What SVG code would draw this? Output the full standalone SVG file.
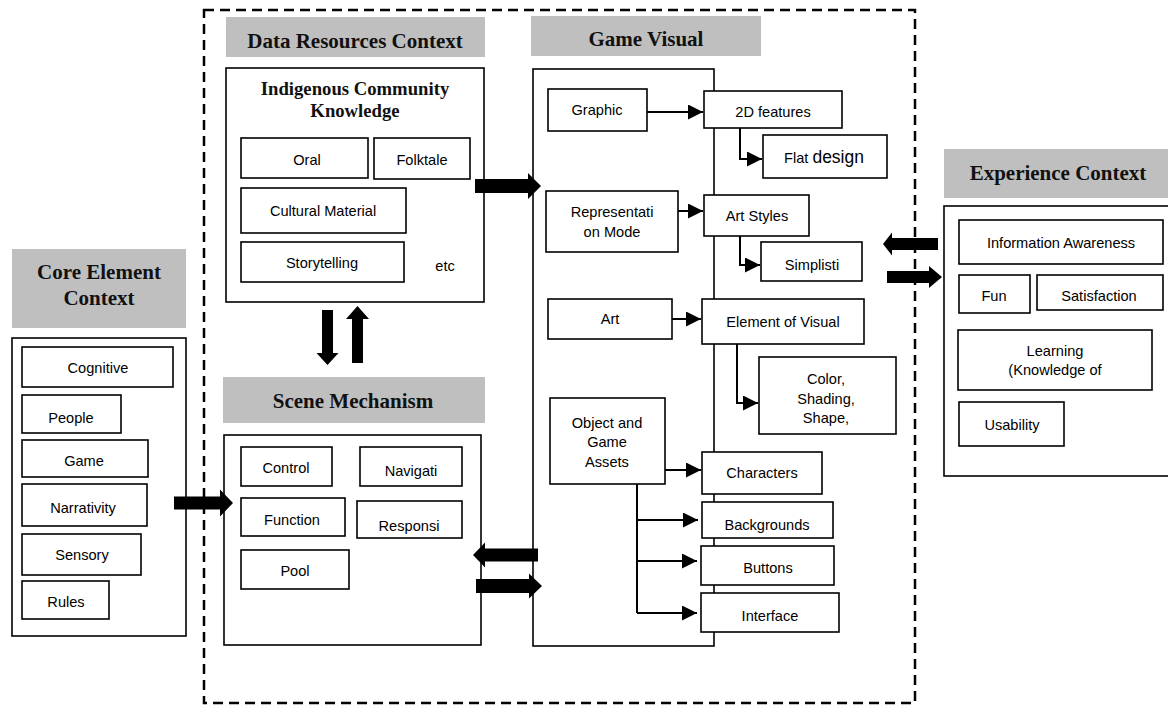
<svg xmlns="http://www.w3.org/2000/svg" width="1168" height="706" viewBox="0 0 1168 706">
<style>
.bg{fill:#fff}
.hdr{fill:#bfbfbf}
.hdt{font-family:"Liberation Serif",serif;font-weight:bold;font-size:21px;fill:#111;text-anchor:middle}
.ttl{font-family:"Liberation Serif",serif;font-weight:bold;font-size:18.7px;fill:#111;text-anchor:middle}
.box{fill:#fff;stroke:#000;stroke-width:1.6}
.t{font-family:"Liberation Sans",Arial,sans-serif;font-size:14.6px;fill:#000;text-anchor:middle}
.ln{fill:none;stroke:#000;stroke-width:2}
.thick{fill:#000}
.dash{fill:none;stroke:#000;stroke-width:2.5;stroke-dasharray:10 6}
</style>
<defs>
<marker id="ah" viewBox="0 0 10 10" refX="10" refY="5" markerWidth="7.5" markerHeight="7.5" markerUnits="strokeWidth" orient="auto">
<path d="M0,0 L10,5 L0,10 Z" fill="#000"/>
</marker>
</defs>
<rect class="bg" x="0" y="0" width="1168" height="706"/>
<rect id="boundary" class="dash" x="204" y="10" width="711" height="693"/>

<g id="core-element-context">
<rect class="hdr" x="12" y="249" width="174" height="79"/>
<text class="hdt" x="99" y="279">Core Element</text>
<text class="hdt" x="99" y="305">Context</text>
<rect class="box" x="12" y="338" width="174" height="298"/>
<g id="cognitive"><rect class="box" x="22" y="347" width="151" height="40"/><text class="t" x="98" y="373">Cognitive</text></g>
<g id="people"><rect class="box" x="22" y="395" width="99" height="38"/><text class="t" x="71" y="423">People</text></g>
<g id="game"><rect class="box" x="22" y="440" width="126" height="37"/><text class="t" x="84" y="466">Game</text></g>
<g id="narrativity"><rect class="box" x="22" y="484" width="125" height="42"/><text class="t" x="83" y="513">Narrativity</text></g>
<g id="sensory"><rect class="box" x="22" y="534" width="119" height="41"/><text class="t" x="82" y="560">Sensory</text></g>
<g id="rules"><rect class="box" x="22" y="581" width="87" height="38"/><text class="t" x="66" y="607">Rules</text></g>
</g>

<g id="data-resources-context">
<rect class="hdr" x="226" y="17" width="259" height="40"/>
<text class="hdt" x="355" y="48">Data Resources Context</text>
<rect class="box" x="226" y="68" width="258" height="234"/>
<text class="ttl" x="355" y="95">Indigenous Community</text>
<text class="ttl" x="355" y="117">Knowledge</text>
<g id="oral"><rect class="box" x="241" y="138" width="127" height="40"/><text class="t" x="307" y="165">Oral</text></g>
<g id="folktale"><rect class="box" x="374" y="138" width="96" height="41"/><text class="t" x="422" y="165">Folktale</text></g>
<g id="cultural-material"><rect class="box" x="241" y="188" width="165" height="45"/><text class="t" x="323" y="216">Cultural Material</text></g>
<g id="storytelling"><rect class="box" x="241" y="242" width="163" height="40"/><text class="t" x="322" y="268">Storytelling</text></g>
<text class="t" x="445" y="271">etc</text>
</g>

<g id="scene-mechanism">
<rect class="hdr" x="223" y="377" width="262" height="46"/>
<text class="hdt" x="353" y="408">Scene Mechanism</text>
<rect class="box" x="224" y="435" width="257" height="210"/>
<g id="control"><rect class="box" x="241" y="447" width="91" height="39"/><text class="t" x="286" y="473">Control</text></g>
<g id="navigati"><rect class="box" x="360" y="447" width="102" height="39"/><text class="t" x="411" y="476">Navigati</text></g>
<g id="function"><rect class="box" x="241" y="498" width="104" height="38"/><text class="t" x="292" y="525">Function</text></g>
<g id="responsi"><rect class="box" x="357" y="501" width="105" height="37"/><text class="t" x="409" y="531">Responsi</text></g>
<g id="pool"><rect class="box" x="241" y="550" width="108" height="39"/><text class="t" x="295" y="576">Pool</text></g>
</g>

<g id="game-visual">
<rect class="hdr" x="531" y="16" width="230" height="40"/>
<text class="hdt" x="646" y="46">Game Visual</text>
<rect class="box" x="533" y="69" width="181" height="577"/>
</g>

<g id="connectors">
<polygon class="thick" points="174,496.5 220,496.5 220,489.5 233,503 220,516.5 220,509.5 174,509.5"/>
<polygon class="thick" points="475,179 528,179 528,173 541,186 528,199 528,193 475,193"/>
<polygon class="thick" points="322,310 333,310 333,353 338.5,353 327.5,365 316.5,353 322,353"/>
<polygon class="thick" points="352,363 363,363 363,319 369,319 357.5,306 346,319 352,319"/>
<polygon class="thick" points="538,548.5 485,548.5 485,542.5 473,555 485,567.5 485,561.5 538,561.5"/>
<polygon class="thick" points="476,579 529,579 529,573.5 542,586 529,598.5 529,593 476,593"/>
<polygon class="thick" points="938,238 892,238 892,232.5 883,244 892,255.5 892,250 938,250"/>
<polygon class="thick" points="887,271 929,271 929,266 942,277 929,288 929,283 887,283"/>
<path class="ln" d="M647,112 H703" marker-end="url(#ah)"/>
<path class="ln" d="M740,128 V159 H762" marker-end="url(#ah)"/>
<path class="ln" d="M678,211 H703" marker-end="url(#ah)"/>
<path class="ln" d="M740,236 V265 H760" marker-end="url(#ah)"/>
<path class="ln" d="M672,319 H701" marker-end="url(#ah)"/>
<path class="ln" d="M737,344 V403 H758" marker-end="url(#ah)"/>
<path class="ln" d="M665,470 H701" marker-end="url(#ah)"/>
<path class="ln" d="M637,484 V613"/>
<path class="ln" d="M637,520 H698" marker-end="url(#ah)"/>
<path class="ln" d="M637,561 H697" marker-end="url(#ah)"/>
<path class="ln" d="M637,613 H697" marker-end="url(#ah)"/>
</g>

<g id="game-visual-nodes">
<g id="graphic"><rect class="box" x="548" y="89" width="99" height="42"/><text class="t" x="597" y="115">Graphic</text></g>
<g id="features-2d"><rect class="box" x="704" y="91" width="138" height="37"/><text class="t" x="773" y="117">2D features</text></g>
<g id="flat-design"><rect class="box" x="763" y="135" width="124" height="43"/><text class="t" x="824" y="163">Flat <tspan font-size="17.5">design</tspan></text></g>
<g id="representation-mode"><rect class="box" x="546" y="191" width="132" height="61"/><text class="t" x="612" y="217">Representati</text><text class="t" x="612" y="237">on Mode</text></g>
<g id="art-styles"><rect class="box" x="704" y="195" width="105" height="41"/><text class="t" x="757" y="221">Art Styles</text></g>
<g id="simplisti"><rect class="box" x="761" y="242" width="101" height="39"/><text class="t" x="812" y="270">Simplisti</text></g>
<g id="art"><rect class="box" x="548" y="299" width="124" height="40"/><text class="t" x="610" y="324">Art</text></g>
<g id="element-of-visual"><rect class="box" x="702" y="299" width="162" height="45"/><text class="t" x="783" y="327">Element of Visual</text></g>
<g id="color-shading-shape"><rect class="box" x="759" y="357" width="137" height="77"/><text class="t" x="826" y="384">Color,</text><text class="t" x="826" y="404">Shading,</text><text class="t" x="826" y="423">Shape,</text></g>
<g id="object-game-assets"><rect class="box" x="550" y="398" width="115" height="86"/><text class="t" x="607" y="428">Object and</text><text class="t" x="607" y="447">Game</text><text class="t" x="607" y="467">Assets</text></g>
<g id="characters"><rect class="box" x="702" y="452" width="120" height="42"/><text class="t" x="762" y="478">Characters</text></g>
<g id="backgrounds"><rect class="box" x="702" y="502" width="131" height="36"/><text class="t" x="767" y="530">Backgrounds</text></g>
<g id="buttons"><rect class="box" x="701" y="546" width="133" height="39"/><text class="t" x="768" y="573">Buttons</text></g>
<g id="interface"><rect class="box" x="701" y="593" width="138" height="39"/><text class="t" x="770" y="621">Interface</text></g>
</g>

<g id="experience-context">
<rect class="hdr" x="944" y="149" width="224" height="49"/>
<text class="hdt" x="1058" y="180">Experience Context</text>
<rect class="box" x="944" y="206" width="230" height="270"/>
<g id="information-awareness"><rect class="box" x="959" y="220" width="204" height="44"/><text class="t" x="1061" y="248">Information Awareness</text></g>
<g id="fun"><rect class="box" x="959" y="275" width="71" height="38"/><text class="t" x="994" y="301">Fun</text></g>
<g id="satisfaction"><rect class="box" x="1037" y="275" width="126" height="35"/><text class="t" x="1099" y="301">Satisfaction</text></g>
<g id="learning"><rect class="box" x="958" y="330" width="194" height="60"/><text class="t" x="1055" y="356">Learning</text><text class="t" x="1055" y="375">(Knowledge of</text></g>
<g id="usability"><rect class="box" x="959" y="402" width="105" height="44"/><text class="t" x="1012" y="430">Usability</text></g>
</g>
</svg>
